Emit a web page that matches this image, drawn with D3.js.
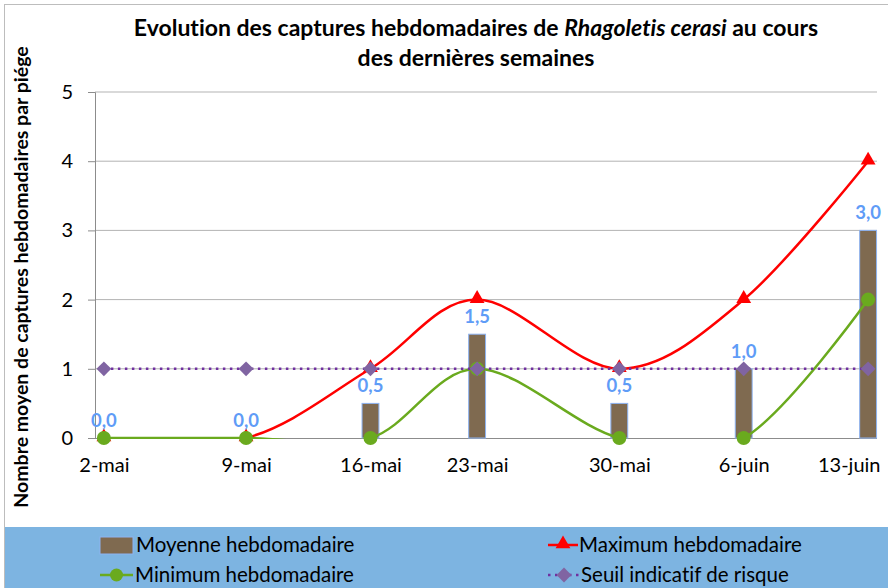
<!DOCTYPE html>
<html>
<head>
<meta charset="utf-8">
<script src="https://cdn.jsdelivr.net/npm/d3@7"></script>
<style>
  body { margin: 0; background: #fff; }
  svg { font-family: Lato, "Open Sans", sans-serif; font-variant-ligatures: none; }
</style>
</head>
<body>
<div id="chart"></div>
<script>
// sampling dates (real trap dates) and the labels shown under them
const sampleDates = ["2011-05-02", "2011-05-10", "2011-05-17", "2011-05-23", "2011-05-31", "2011-06-07", "2011-06-14"];
const dateLabels = ["2-mai", "9-mai", "16-mai", "23-mai", "30-mai", "6-juin", "13-juin"];
const moyenne = [0, 0, 0.5, 1.5, 0.5, 1, 3];
const maximum = [0, 0, 1, 2, 1, 2, 4];
const minimum = [0, 0, 0, 1, 0, 0, 2];
const seuil = [1, 1, 1, 1, 1, 1, 1];
const yTicks = [0, 1, 2, 3, 4, 5];

const W = 888, H = 588;
const plot = { left: 95, right: 877, top: 92, bottom: 438 };

const svg = d3.select("#chart").append("svg")
    .attr("width", W)
    .attr("height", H);

const parse = d3.timeParse("%Y-%m-%d");
const dates = sampleDates.map(parse);
const halfDay = 12 * 3600 * 1000;

const x = d3.scaleTime()
    .domain([new Date(+dates[0] - halfDay), new Date(+dates[dates.length - 1] + halfDay)])
    .range([plot.left, plot.right]);
const y = d3.scaleLinear().domain([0, 5]).range([plot.bottom, plot.top]);

const rows = dates.map((d, i) => ({
    date: d, label: dateLabels[i], moy: moyenne[i], max: maximum[i], min: minimum[i], seuil: seuil[i]
}));

// clip for the lines (Excel clips them to the plot area)
svg.append("defs").append("clipPath").attr("id", "plotclip")
    .append("rect")
    .attr("x", plot.left - 20).attr("y", plot.top - 20)
    .attr("width", plot.right - plot.left + 40)
    .attr("height", plot.bottom - plot.top + 21);

// outer frame
svg.append("rect")
    .attr("x", 4.5).attr("y", 4.5)
    .attr("width", W + 10).attr("height", H + 10)
    .attr("fill", "#fff").attr("stroke", "#bdbdbd");

// title
const title = svg.append("text")
    .attr("text-anchor", "middle")
    .attr("font-weight", "bold")
    .attr("font-size", 23)
    .attr("fill", "#000");
const t1 = title.append("tspan").attr("x", 476).attr("y", 36);
t1.append("tspan").text("Evolution des captures hebdomadaires de ");
t1.append("tspan").attr("font-style", "italic").text("Rhagoletis cerasi");
t1.append("tspan").text(" au cours");
title.append("tspan").attr("x", 476).attr("y", 66).text("des dernières semaines");

// gridlines
svg.append("g")
    .selectAll("line")
    .data(yTicks.filter(d => d > 0))
    .join("line")
    .attr("x1", plot.left).attr("x2", plot.right)
    .attr("y1", d => y(d)).attr("y2", d => y(d))
    .attr("stroke", "#b3b3b3").attr("stroke-width", 1);

// y axis
const yAxis = svg.append("g")
    .attr("transform", `translate(${plot.left},0)`)
    .call(d3.axisLeft(y).tickValues(yTicks).tickSize(7).tickPadding(15).tickFormat(d3.format("d")));
yAxis.select(".domain").attr("stroke", "#8c8c8c");
yAxis.selectAll(".tick line").attr("stroke", "#8c8c8c");
yAxis.selectAll("text").attr("font-size", 20).attr("font-family", "Lato").attr("fill", "#000");

// x axis
const xAxis = svg.append("g")
    .attr("transform", `translate(0,${plot.bottom})`)
    .call(d3.axisBottom(x).tickValues(dates).tickSize(0).tickPadding(20)
        .tickFormat((d, i) => dateLabels[i]));
xAxis.select(".domain").attr("stroke", "#8c8c8c").attr("d", `M${plot.left - 7},0.5H${plot.right}`);
xAxis.selectAll("text").attr("font-size", 20).attr("font-family", "Lato").attr("fill", "#000");
// last label is pushed inward so it stays inside the chart, like Excel does
xAxis.selectAll(".tick").filter((d, i) => i === dates.length - 1)
    .select("text").attr("text-anchor", "end").attr("x", W - 8 - x(dates[dates.length - 1]));

// y title
svg.append("text")
    .attr("transform", `translate(28,277) rotate(-90)`)
    .attr("text-anchor", "middle")
    .attr("font-weight", "bold")
    .attr("font-size", 19.5)
    .text("Nombre moyen de captures hebdomadaires par piége");

// bars
const barW = (x(new Date(+dates[0] + halfDay)) - x(new Date(+dates[0] - halfDay))) * 0.95;
svg.append("g")
    .selectAll("rect")
    .data(rows)
    .join("rect")
    .attr("x", d => x(d.date) - barW / 2)
    .attr("y", d => y(d.moy))
    .attr("width", barW)
    .attr("height", d => y(0) - y(d.moy))
    .attr("fill", "#7f6a50")
    .attr("stroke", "#8db3f2")
    .attr("stroke-width", 1);

const curve = d3.curveCardinal.tension(0);

// maximum
const lineMax = d3.line().x(d => x(d.date)).y(d => y(d.max)).curve(curve);
svg.append("path").datum(rows)
    .attr("clip-path", "url(#plotclip)")
    .attr("d", lineMax).attr("fill", "none").attr("stroke", "#ff0000").attr("stroke-width", 2.5);
svg.append("g").selectAll("path")
    .data(rows)
    .join("path")
    .attr("transform", d => `translate(${x(d.date)},${y(d.max) - 1})`)
    .attr("d", d3.symbol(d3.symbolTriangle, 95))
    .attr("fill", "#ff0000");

// minimum
const lineMin = d3.line().x(d => x(d.date)).y(d => y(d.min)).curve(curve);
svg.append("path").datum(rows)
    .attr("clip-path", "url(#plotclip)")
    .attr("d", lineMin).attr("fill", "none").attr("stroke", "#6aaa1e").attr("stroke-width", 2.5);
svg.append("g").selectAll("circle")
    .data(rows)
    .join("circle")
    .attr("cx", d => x(d.date)).attr("cy", d => y(d.min))
    .attr("r", 7)
    .attr("fill", "#6aaa1e");

// seuil
const lineSeuil = d3.line().x(d => x(d.date)).y(d => y(d.seuil));
svg.append("path").datum(rows)
    .attr("d", lineSeuil).attr("fill", "none").attr("stroke", "#7030a0")
    .attr("stroke-width", 2.5).attr("stroke-dasharray", "2.5,4.5");
svg.append("g").selectAll("path")
    .data(rows)
    .join("path")
    .attr("transform", d => `translate(${x(d.date)},${y(d.seuil)})`)
    .attr("d", d3.symbol(d3.symbolDiamond2, 140))
    .attr("fill", "#8064a2");

// data labels on bars
const fmt = d => d3.format(".1f")(d).replace(".", ",");
svg.append("g").selectAll("text")
    .data(rows)
    .join("text")
    .attr("x", d => x(d.date))
    .attr("y", d => y(d.moy) - 11)
    .attr("text-anchor", "middle")
    .attr("font-weight", "bold")
    .attr("font-size", 18.5)
    .attr("fill", "#5f9cf7")
    .text(d => fmt(d.moy));

// legend
const lg = svg.append("g");
lg.append("rect")
    .attr("x", 5).attr("y", 527).attr("width", W).attr("height", H - 527 + 5)
    .attr("fill", "#7db4e1");

const legendItems = [
    { name: "Moyenne hebdomadaire", kind: "bar", lx: 100, ly: 545 },
    { name: "Maximum hebdomadaire", kind: "max", lx: 548, ly: 545 },
    { name: "Minimum hebdomadaire", kind: "min", lx: 100, ly: 575 },
    { name: "Seuil indicatif de risque", kind: "seuil", lx: 548, ly: 575 }
];
legendItems.forEach(it => {
    const g = lg.append("g").attr("transform", `translate(${it.lx},${it.ly})`);
    if (it.kind === "bar") {
        g.append("rect").attr("x", 0).attr("y", -8).attr("width", 33).attr("height", 17)
            .attr("fill", "#7f6a50").attr("stroke", "#8db3f2");
    } else if (it.kind === "max") {
        g.append("line").attr("x1", 0).attr("x2", 30).attr("stroke", "#ff0000").attr("stroke-width", 2.5);
        g.append("path").attr("transform", "translate(15,-1)").attr("d", d3.symbol(d3.symbolTriangle, 95)).attr("fill", "#ff0000");
    } else if (it.kind === "min") {
        g.append("line").attr("x1", 0).attr("x2", 33).attr("stroke", "#6aaa1e").attr("stroke-width", 2.5);
        g.append("circle").attr("cx", 16.5).attr("r", 6.5).attr("fill", "#6aaa1e");
    } else {
        g.append("line").attr("x1", 0).attr("x2", 31).attr("stroke", "#7030a0")
            .attr("stroke-width", 2.5).attr("stroke-dasharray", "2.5,4.5");
        g.append("path").attr("transform", "translate(16,0)").attr("d", d3.symbol(d3.symbolDiamond2, 140)).attr("fill", "#8064a2");
    }
    g.append("text")
        .attr("x", it.kind === "bar" ? 36 : (it.kind === "max" ? 31 : (it.kind === "seuil" ? 33 : 35)))
        .attr("y", 0)
        .attr("dy", "0.35em")
        .attr("font-size", 20.5)
        .attr("fill", "#000")
        .text(it.name);
});
</script>
</body>
</html>
